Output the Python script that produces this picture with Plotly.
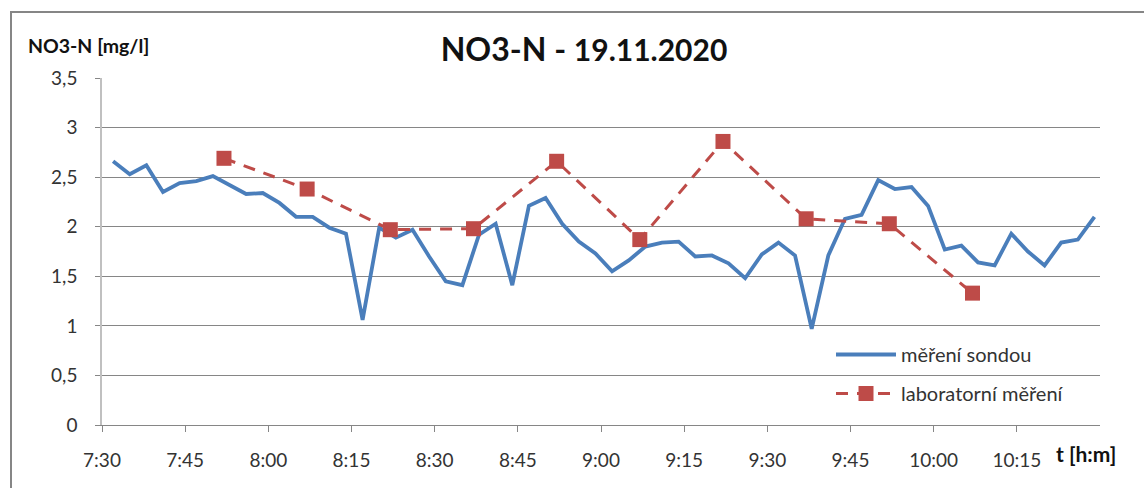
import pandas as pd
import plotly.graph_objects as go

# Probe readings every 3 minutes from 7:32, NO3-N in mg/l
probe_start = "2020-11-19 07:32"
probe_step = "3min"
probe_values = [
    2.66, 2.53, 2.62, 2.35, 2.44, 2.46, 2.51, 2.42, 2.33, 2.34,
    2.24, 2.10, 2.10, 1.99, 1.93, 1.06, 1.99, 1.89, 1.97, 1.70,
    1.45, 1.41, 1.92, 2.03, 1.41, 2.21, 2.29, 2.03, 1.85, 1.73,
    1.55, 1.66, 1.80, 1.84, 1.85, 1.70, 1.71, 1.63, 1.48, 1.72,
    1.84, 1.71, 0.97, 1.71, 2.08, 2.12, 2.47, 2.38, 2.40, 2.21,
    1.77, 1.81, 1.64, 1.61, 1.93, 1.75, 1.61, 1.84, 1.87, 2.10,
]
probe_times = pd.date_range(probe_start, periods=len(probe_values), freq=probe_step)

# Laboratory samples
lab_times = ["07:52", "08:07", "08:22", "08:37", "08:52",
             "09:07", "09:22", "09:37", "09:52", "10:07"]
lab_values = [2.69, 2.38, 1.97, 1.98, 2.66, 1.87, 2.86, 2.08, 2.03, 1.33]

# Axis ticks
x_tick_labels = ["7:30", "7:45", "8:00", "8:15", "8:30", "8:45", "9:00",
                 "9:15", "9:30", "9:45", "10:00", "10:15"]
x_range = ["07:30", "10:30"]
y_ticks = [0, 0.5, 1, 1.5, 2, 2.5, 3, 3.5]

day = "2020-11-19 "


def stamp(hm):
    return pd.Timestamp(day + hm)


def stamp_label(lbl):
    h, m = lbl.split(":")
    return pd.Timestamp(day + f"{int(h):02d}:{m}")


BLUE = "#4A7EBB"
RED = "#BE4B48"
GRID = "#868686"
FONT = "Lato, 'Open Sans', sans-serif"

fig = go.Figure()
fig.add_trace(go.Scatter(
    x=probe_times, y=probe_values, mode="lines", name="měření sondou",
    legendgroup="probe",
    line=dict(color=BLUE, width=3.8),
))
fig.add_trace(go.Scatter(
    x=[stamp(t) for t in lab_times], y=lab_values, mode="lines+markers",
    name="laboratorní měření", legendgroup="lab",
    line=dict(color=RED, width=3, dash="12px,9px"),
    marker=dict(symbol="square", size=15, color=RED),
))

L, R, T, B = 102, 44, 78, 63
W, H = 1144, 488
pw, ph = W - L - R, H - T - B


def px_x(x):
    return (x - L) / pw


def px_y(y):
    return (H - B - y) / ph


fig.update_layout(
    width=W, height=H,
    margin=dict(l=L, r=R, t=T, b=B),
    paper_bgcolor="white", plot_bgcolor="white",
    separators=", ",
    font=dict(family=FONT, size=19, color="#333333"),
    title=dict(
        text="<b>NO3-N - <span style='font-size:30px'>19.11.2020</span></b>",
        font=dict(family=FONT, size=32, color="#111111"),
        xref="paper", x=px_x(584), xanchor="center",
        yref="container", y=1 - 50 / H, yanchor="middle",
    ),
    xaxis=dict(
        type="date",
        range=[stamp(x_range[0]), stamp(x_range[1])],
        tickvals=[stamp_label(t) for t in x_tick_labels],
        ticktext=x_tick_labels,
        showgrid=False, zeroline=False,
        showline=True, linecolor=GRID, linewidth=1,
        ticks="outside", ticklen=6, tickcolor=GRID,
        ticklabelstandoff=12,
        tickfont=dict(size=19, color="#333333"),
    ),
    yaxis=dict(
        range=[0, 3.5],
        tickvals=y_ticks,
        showgrid=True, gridcolor=GRID, gridwidth=1,
        zeroline=False,
        showline=True, linecolor="#C0C0C0", linewidth=1.5,
        ticks="outside", ticklen=5, tickcolor=GRID,
        ticklabelstandoff=14,
        tickfont=dict(size=19, color="#333333"),
    ),
    legend=dict(
        x=px_x(831), y=px_y(335), xanchor="left", yanchor="top",
        bgcolor="rgba(0,0,0,0)", borderwidth=0,
        font=dict(size=20, color="#333333"),
        itemwidth=60, traceorder="grouped", tracegroupgap=10,
    ),
    showlegend=True,
)

# Axis titles
fig.add_annotation(
    text="<b>NO3-N [mg/l]</b>", xref="paper", yref="paper",
    x=px_x(26), y=px_y(45), xanchor="left", yanchor="middle",
    showarrow=False, font=dict(family=FONT, size=19.5, color="#111111"),
)
fig.add_annotation(
    text="<b>t [h:m]</b>", xref="paper", yref="paper",
    x=px_x(1054), y=px_y(453), xanchor="left", yanchor="middle",
    showarrow=False, font=dict(family=FONT, size=21, color="#111111"),
)

# Chart frame
fig.add_shape(
    type="rect", xref="paper", yref="paper",
    x0=px_x(11), x1=px_x(1160), y0=px_y(500), y1=px_y(12),
    line=dict(color=GRID, width=2), fillcolor="rgba(0,0,0,0)", layer="below",
)

fig.write_html("out.html")
